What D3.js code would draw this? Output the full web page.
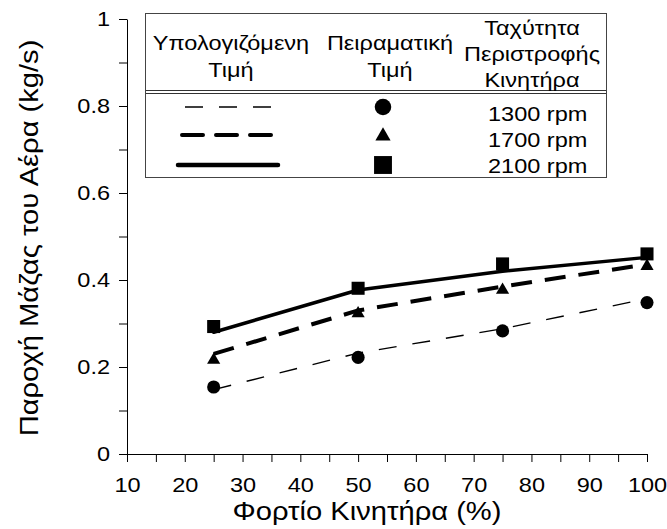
<!DOCTYPE html>
<html>
<head>
<meta charset="utf-8">
<script src="https://cdn.jsdelivr.net/npm/d3@7"></script>
<style>
  html, body { margin: 0; padding: 0; background: #fff; }
  svg { display: block; font-family: "Liberation Sans", Arial, sans-serif; }
</style>
</head>
<body>
<svg id="chart" width="667" height="529"></svg>
<script>
// Engine load (%) on the x axis
const loads = [25, 50, 75, 100];
const speeds = ["1300 rpm", "1700 rpm", "2100 rpm"];

// Computed air mass flow (kg/s)
const calc1300 = [0.148, 0.232, 0.288, 0.357];
const calc1700 = [0.230, 0.330, 0.385, 0.436];
const calc2100 = [0.280, 0.377, 0.420, 0.452];

// Measured air mass flow (kg/s)
const exp1300 = [0.154, 0.222, 0.283, 0.348];
const exp1700 = [0.216, 0.323, 0.377, 0.432];
const exp2100 = [0.293, 0.381, 0.437, 0.460];

const xTicks = d3.range(10, 101, 5);
const yTicks = d3.range(0, 11).map(d => d / 10);

const legendHeader = [
  ["Υπολογιζόμενη", "Τιμή"],
  ["Πειραματική", "Τιμή"],
  ["Ταχύτητα", "Περιστροφής", "Κινητήρα"]
];

const series = [
  { calc: calc1300, exp: exp1300, width: 1.4, dash: "18,16", cap: "butt",  symbol: d3.symbolCircle,   size: 135, lsize: 215 },
  { calc: calc1700, exp: exp1700, width: 4,   dash: "21,13", cap: "round", symbol: d3.symbolTriangle, size: 75,  lsize: 100 },
  { calc: calc2100, exp: exp2100, width: 3.5, dash: null,    cap: "round", symbol: d3.symbolSquare,   size: 170, lsize: 320 }
];

const svg = d3.select("#chart");

// Widen text horizontally while keeping its anchor point in place
const STRETCH = 1.12;
function stretch(sel) {
  sel.each(function () {
    const L = this.getComputedTextLength();
    if (!(L > 0)) return;
    const anchor = getComputedStyle(this).textAnchor;
    const x0 = +(this.getAttribute("x") || 0);
    const W = L * STRETCH;
    let xs = x0;
    if (anchor === "middle") xs = x0 - W / 2;
    else if (anchor === "end") xs = x0 - W;
    this.setAttribute("x", xs);
    this.setAttribute("text-anchor", "start");
    this.style.textAnchor = "start";
    this.setAttribute("textLength", W);
    this.setAttribute("lengthAdjust", "spacingAndGlyphs");
  });
}

const x = d3.scaleLinear().domain([10, 100]).range([127, 647]);
const y = d3.scaleLinear().domain([0, 1]).range([454, 19]);

// Axes: ticks every 0.1 / 5 %, labels every 0.2 / 10 %
const fmtY = d => (Math.round(d * 10) % 2 === 0) ? (d === 0 ? "0" : d === 1 ? "1" : d.toFixed(1)) : "";
const fmtX = d => (d % 10 === 0) ? String(d) : "";

const gy = svg.append("g").attr("transform", "translate(127,0)")
  .call(d3.axisLeft(y).tickValues(yTicks).tickSize(8).tickSizeOuter(0).tickPadding(9).tickFormat(fmtY));
const gx = svg.append("g").attr("transform", "translate(0,454)")
  .call(d3.axisBottom(x).tickValues(xTicks).tickSize(8).tickSizeOuter(0).tickPadding(15).tickFormat(fmtX));

[gx, gy].forEach(g => {
  g.select(".domain").attr("stroke", "#000").attr("stroke-width", 1);
  g.selectAll(".tick line").attr("stroke", "#000").attr("stroke-width", 1);
  g.selectAll(".tick text").attr("fill", "#000").attr("font-size", 21)
    .attr("font-family", "Liberation Sans, Arial, sans-serif");
  stretch(g.selectAll(".tick text"));
});

// Axis titles
svg.append("text")
  .attr("x", 367).attr("y", 520)
  .attr("text-anchor", "middle").attr("font-size", 26)
  .text("Φορτίο Κινητήρα (%)").call(stretch);

svg.append("text")
  .attr("transform", "translate(38,238) rotate(-90)")
  .attr("text-anchor", "middle").attr("font-size", 26)
  .text("Παροχή Μάζας του Αέρα (kg/s)").call(stretch);

// Computed curves
const line = d3.line().x((d, i) => x(loads[i])).y(d => y(d));
series.forEach(s => {
  svg.append("path")
    .attr("d", line(s.calc))
    .attr("fill", "none").attr("stroke", "#000")
    .attr("stroke-width", s.width)
    .attr("stroke-dasharray", s.dash)
    .attr("stroke-linecap", s.dash ? "butt" : "round")
    .attr("stroke-linejoin", "round");
});

// Measured points
series.forEach(s => {
  svg.append("g").selectAll("path")
    .data(s.exp).join("path")
    .attr("d", d3.symbol().type(s.symbol).size(s.size))
    .attr("transform", (d, i) => `translate(${x(loads[i])},${y(d)})`)
    .attr("fill", "#000");
});

// Legend
const lg = svg.append("g");
lg.append("rect").attr("x", 145.5).attr("y", 13.5).attr("width", 461).attr("height", 164)
  .attr("fill", "#fff").attr("stroke", "#444").attr("stroke-width", 1);
lg.append("line").attr("x1", 146).attr("x2", 606).attr("y1", 90.5).attr("y2", 90.5).attr("stroke", "#333");
lg.append("line").attr("x1", 146).attr("x2", 606).attr("y1", 93.5).attr("y2", 93.5).attr("stroke", "#333");

const headCols = [231, 390, 532];
const headBase = [[50, 77], [50, 77], [35, 61, 87]];
legendHeader.forEach((lines, c) => {
  lines.forEach((t, r) => {
    lg.append("text").attr("x", headCols[c]).attr("y", headBase[c][r])
      .attr("text-anchor", "middle").attr("font-size", 21).text(t).call(stretch);
  });
});

const rowY = [107, 135, 165];
const rowText = [121, 147, 173];
const rowX = [[185, 272], [182, 272], [178, 278]];
series.forEach((s, i) => {
  lg.append("line")
    .attr("x1", rowX[i][0]).attr("x2", rowX[i][1])
    .attr("y1", rowY[i]).attr("y2", rowY[i])
    .attr("stroke", "#000").attr("stroke-width", s.width + (i === 2 ? 1 : 0))
    .attr("stroke-dasharray", s.dash)
    .attr("stroke-linecap", s.cap);
  lg.append("path")
    .attr("d", d3.symbol().type(s.symbol).size(s.lsize))
    .attr("transform", `translate(383,${rowY[i] + (i === 1 ? 1 : 0)})`)
    .attr("fill", "#000");
  lg.append("text").attr("x", 488).attr("y", rowText[i])
    .attr("font-size", 21).text(speeds[i]).call(stretch);
});
</script>
</body>
</html>
